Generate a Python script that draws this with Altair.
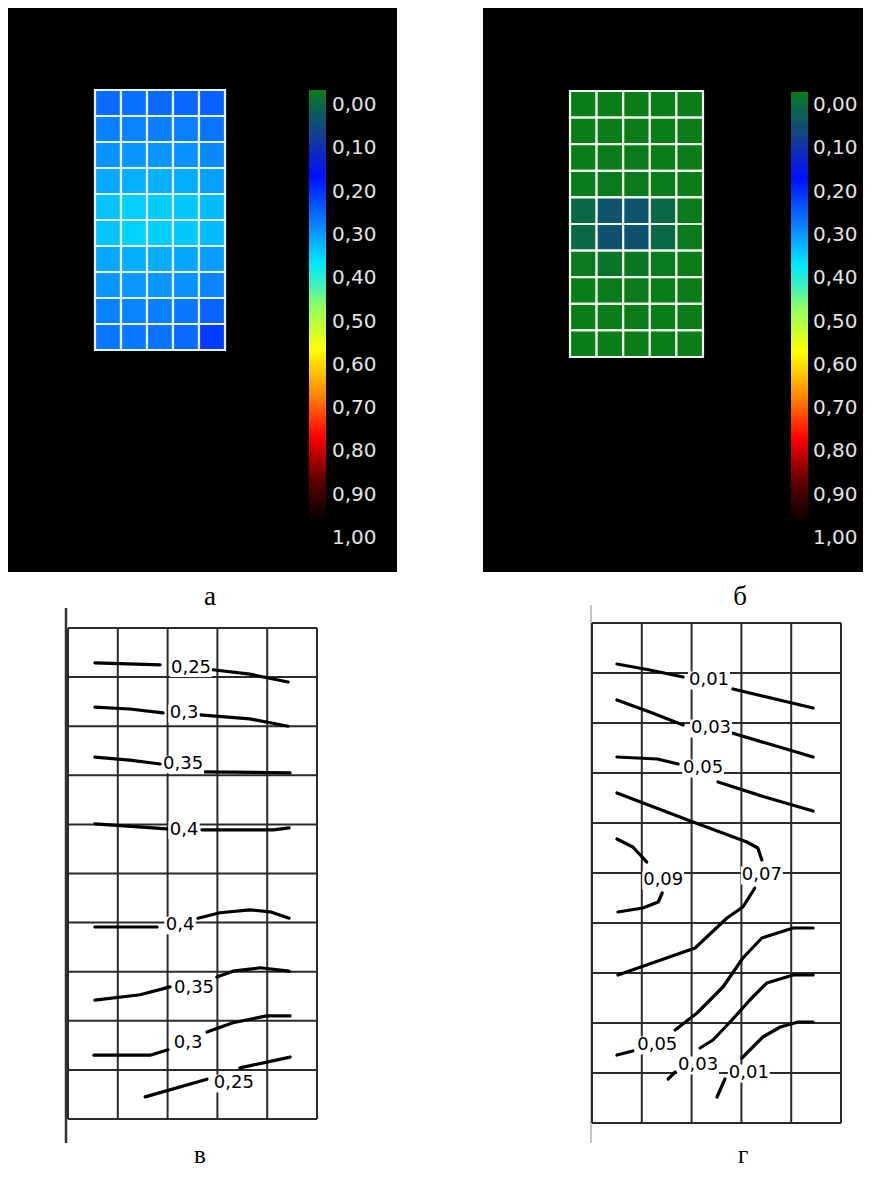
import altair as alt
import pandas as pd

# ---------------- colour map (value -> colour) ----------------
CMAP_VALUES = [0.0, 0.05, 0.1, 0.2, 0.3, 0.4, 0.45, 0.5, 0.6, 0.7, 0.8, 0.9, 1.0]
CMAP_COLORS = ["#0a7d18", "#0b5f5a", "#15408a", "#0010ff", "#0a78ff", "#00e8ff",
               "#40f0c0", "#90ff60", "#ffff00", "#ff8c00", "#ff0000", "#600000", "#000000"]
CBAR_TICKS = [0.0, 0.1, 0.2, 0.3, 0.4, 0.5, 0.6, 0.7, 0.8, 0.9, 1.0]
CBAR_LABELS = ["0,00", "0,10", "0,20", "0,30", "0,40", "0,50",
               "0,60", "0,70", "0,80", "0,90", "1,00"]

# ---------------- panel а : 10 rows x 5 columns ----------------
HEAT_A = [
    [0.288, 0.292, 0.288, 0.286, 0.278],
    [0.307, 0.309, 0.307, 0.305, 0.297],
    [0.323, 0.326, 0.326, 0.323, 0.316],
    [0.345, 0.350, 0.350, 0.347, 0.337],
    [0.367, 0.378, 0.376, 0.372, 0.362],
    [0.368, 0.380, 0.377, 0.372, 0.360],
    [0.343, 0.348, 0.347, 0.343, 0.333],
    [0.327, 0.328, 0.327, 0.322, 0.312],
    [0.308, 0.311, 0.306, 0.301, 0.280],
    [0.299, 0.301, 0.296, 0.287, 0.242],
]
# ---------------- panel б ----------------
HEAT_B = [
    [0.000, 0.000, 0.000, 0.000, 0.000],
    [0.000, 0.000, 0.000, 0.000, 0.000],
    [0.000, 0.002, 0.002, 0.000, 0.000],
    [0.002, 0.004, 0.004, 0.002, 0.000],
    [0.035, 0.070, 0.070, 0.035, 0.004],
    [0.035, 0.072, 0.072, 0.035, 0.004],
    [0.006, 0.014, 0.010, 0.005, 0.000],
    [0.000, 0.003, 0.002, 0.000, 0.000],
    [0.000, 0.000, 0.000, 0.000, 0.000],
    [0.000, 0.000, 0.000, 0.000, 0.000],
]

# ---------------- panel в : contour lines (grid units: x 0..5, y rows 0..10 from top) ----------------
V_025_TOP = [[(0.54, 0.71), (1.85, 0.75)], [(2.91, 0.85), (3.65, 0.94), (4.42, 1.10)]]
V_030_TOP = [[(0.54, 1.61), (1.24, 1.65), (1.91, 1.73)], [(2.65, 1.77), (3.65, 1.85), (4.42, 2.00)]]
V_035_TOP = [[(0.54, 2.63), (1.24, 2.69), (1.85, 2.77)], [(2.75, 2.93), (4.46, 2.95)]]
V_040_TOP = [[(0.54, 3.99), (1.99, 4.09)], [(2.69, 4.11), (4.12, 4.11), (4.44, 4.07)]]
V_040_BOT = [[(0.54, 6.09), (1.79, 6.09)], [(2.61, 5.91), (3.05, 5.80), (3.65, 5.74), (4.06, 5.78), (4.44, 5.91)]]
V_035_BOT = [[(0.54, 7.58), (1.45, 7.47), (2.05, 7.31)], [(2.99, 7.11), (3.31, 6.99), (3.86, 6.92), (4.44, 6.99)]]
V_030_BOT = [[(0.52, 8.70), (1.65, 8.70), (2.01, 8.59)], [(2.79, 8.23), (3.31, 8.04), (3.99, 7.90), (4.46, 7.90)]]
V_025_BOT = [[(1.55, 9.55), (2.79, 9.19)], [(3.45, 8.96), (4.46, 8.74)]]
V_LABEL_TEXT = ["0,25", "0,3", "0,35", "0,4", "0,4", "0,35", "0,3", "0,25"]
V_LABEL_X = [2.47, 2.33, 2.31, 2.33, 2.25, 2.53, 2.41, 3.33]
V_LABEL_Y = [0.81, 1.73, 2.77, 4.11, 6.05, 7.33, 8.45, 9.27]

# ---------------- panel г ----------------
G_001_TOP = [[(0.50, 0.82), (1.16, 0.94), (1.83, 1.08)], [(2.83, 1.32), (4.44, 1.70)]]
G_003_TOP = [[(0.50, 1.54), (1.16, 1.78), (1.83, 2.04)], [(2.81, 2.20), (4.44, 2.68)]]
G_005_TOP = [[(0.50, 2.68), (1.31, 2.72), (1.73, 2.82)], [(2.53, 3.18), (3.47, 3.48), (4.44, 3.76)]]
G_007 = [[(0.50, 3.40), (2.03, 3.98), (3.11, 4.38), (3.33, 4.50), (3.41, 4.74)],
         [(3.27, 5.30), (3.03, 5.68), (2.71, 5.90), (2.07, 6.50), (0.52, 7.04)]]
G_009 = [[(0.50, 4.32), (0.82, 4.48), (1.10, 4.78)], [(1.41, 5.40), (1.33, 5.58), (1.02, 5.70), (0.52, 5.78)]]
G_005_BOT = [[(4.44, 6.10), (4.04, 6.10), (3.41, 6.30), (3.03, 6.70), (2.63, 7.28), (2.11, 7.80), (1.67, 8.14)],
             [(0.82, 8.56), (0.50, 8.64)]]
G_003_BOT = [[(4.44, 7.04), (4.04, 7.04), (3.51, 7.20), (3.17, 7.54), (2.81, 7.94), (2.43, 8.34), (2.17, 8.50)],
             [(1.67, 8.98), (1.53, 9.12)]]
G_001_BOT = [[(4.44, 7.98), (4.14, 7.98), (3.78, 8.08), (3.43, 8.28), (3.17, 8.54), (3.01, 8.70)],
             [(2.67, 9.12), (2.51, 9.48)]]
G_LABEL_TEXT = ["0,01", "0,03", "0,05", "0,07", "0,09", "0,05", "0,03", "0,01"]
G_LABEL_X = [2.35, 2.39, 2.23, 3.41, 1.43, 1.31, 2.13, 3.15]
G_LABEL_Y = [1.14, 2.10, 2.90, 5.04, 5.14, 8.44, 8.84, 9.00]

N_COLS, N_ROWS = 5, 10
PANEL_LETTERS = ["а", "б", "в", "г"]


# ---------------- helpers ----------------
def lin(domain, rng):
    return alt.Scale(domain=domain, range=rng, nice=False, zero=False)


def heat_frame(values):
    rows = []
    for r, row in enumerate(values):
        for c, v in enumerate(row):
            rows.append({"c0": c, "c1": c + 1, "r0": r, "r1": r + 1, "v": v})
    return pd.DataFrame(rows)


def contour_frame(contours):
    rows = []
    for k, segs in enumerate(contours):
        for s, seg in enumerate(segs):
            for i, (x, y) in enumerate(seg):
                rows.append({"seg": f"{k}-{s}", "i": i, "x": x, "y": y})
    return pd.DataFrame(rows)


color_scale = alt.Scale(domain=CMAP_VALUES, range=CMAP_COLORS, interpolate="rgb")
gradient = alt.Gradient(
    gradient="linear",
    stops=[alt.GradientStop(offset=(v - CMAP_VALUES[0]) / (CMAP_VALUES[-1] - CMAP_VALUES[0]), color=c)
           for v, c in zip(CMAP_VALUES, CMAP_COLORS)],
    x1=0, x2=0, y1=0, y2=1,
)
one = pd.DataFrame({"k": [0]})


def black_panel(x0, x1, y0, y1):
    return alt.Chart(one).mark_rect(color="black").encode(
        x=alt.value(x0), x2=alt.value(x1), y=alt.value(y0), y2=alt.value(y1))


def heatmap(values, xr, yr, stroke):
    return alt.Chart(heat_frame(values)).mark_rect(stroke=stroke, strokeWidth=2.2).encode(
        x=alt.X("c0:Q", scale=lin([0, N_COLS], xr), axis=None), x2="c1:Q",
        y=alt.Y("r0:Q", scale=lin([0, N_ROWS], yr), axis=None), y2="r1:Q",
        color=alt.Color("v:Q", scale=color_scale, legend=None),
    )


def colorbar(x0, x1, yr, label_x, label_yr):
    bar = alt.Chart(pd.DataFrame({"a": [CBAR_TICKS[0]], "b": [CBAR_TICKS[-1]]})).mark_rect(
        fill=gradient).encode(
        x=alt.value(x0), x2=alt.value(x1),
        y=alt.Y("a:Q", scale=lin([0, 1], yr), axis=None), y2="b:Q")
    labs = alt.Chart(pd.DataFrame({"t": CBAR_TICKS, "s": CBAR_LABELS})).mark_text(
        align="left", baseline="middle", font="DejaVu Sans", fontSize=20, color="#e4e4e4").encode(
        x=alt.value(label_x),
        y=alt.Y("t:Q", scale=lin([0, 1], label_yr), axis=None), text="s:N")
    return [bar, labs]


def grid(xr, yr, color, width):
    xs = lin([0, N_COLS], xr)
    ys = lin([0, N_ROWS], yr)
    vdf = pd.DataFrame({"g": list(range(N_COLS + 1)), "a": 0, "b": N_ROWS})
    hdf = pd.DataFrame({"g": list(range(N_ROWS + 1)), "a": 0, "b": N_COLS})
    v = alt.Chart(vdf).mark_rule(color=color, strokeWidth=width).encode(
        x=alt.X("g:Q", scale=xs, axis=None),
        y=alt.Y("a:Q", scale=ys, axis=None), y2="b:Q")
    h = alt.Chart(hdf).mark_rule(color=color, strokeWidth=width).encode(
        y=alt.Y("g:Q", scale=ys, axis=None),
        x=alt.X("a:Q", scale=xs, axis=None), x2="b:Q")
    return [v, h]


def contours(curves, texts, tx, ty, xr, yr):
    xs = lin([0, N_COLS], xr)
    ys = lin([0, N_ROWS], yr)
    lines = alt.Chart(contour_frame(curves)).mark_line(
        color="black", strokeWidth=3.2, strokeCap="round", strokeJoin="round").encode(
        x=alt.X("x:Q", scale=xs, axis=None), y=alt.Y("y:Q", scale=ys, axis=None),
        detail="seg:N", order="i:Q")
    lab_df = pd.DataFrame({"x": tx, "y": ty, "s": texts})
    # white box behind each label (approx. 0.2 cell per character, 0.36 row tall)
    lab_df["x0"] = lab_df["x"] - lab_df["s"].str.len() * 0.105
    lab_df["x1"] = lab_df["x"] + lab_df["s"].str.len() * 0.105
    lab_df["y0"] = lab_df["y"] - 0.17
    lab_df["y1"] = lab_df["y"] + 0.19
    box = alt.Chart(lab_df).mark_rect(color="white").encode(
        x=alt.X("x0:Q", scale=xs, axis=None), x2="x1:Q",
        y=alt.Y("y0:Q", scale=ys, axis=None), y2="y1:Q")
    labs = alt.Chart(lab_df).mark_text(
        font="DejaVu Sans", fontSize=18, color="black", align="center", baseline="middle").encode(
        x=alt.X("x:Q", scale=xs, axis=None), y=alt.Y("y:Q", scale=ys, axis=None), text="s:N")
    return [lines, box, labs]


def axis_line(x, y0, y1, color, width):
    return alt.Chart(one).mark_rule(color=color, strokeWidth=width).encode(
        x=alt.value(x), y=alt.value(y0), y2=alt.value(y1))


def letter(s, x, y, size):
    return alt.Chart(pd.DataFrame({"s": [s]})).mark_text(
        font="Liberation Serif", fontSize=size, color="black", align="center",
        baseline="alphabetic").encode(
        x=alt.value(x), y=alt.value(y), text="s:N")


layers = []
# top panels
layers.append(black_panel(0, 389, 0, 564))
layers.append(black_panel(475, 855, 0, 564))
layers.append(heatmap(HEAT_A, [87, 217], [82, 342], "#e6f3ff"))
layers.append(heatmap(HEAT_B, [562, 695], [83, 349], "#eefbea"))
layers += colorbar(301, 318, [82, 515], 324, [97, 530])
layers += colorbar(783, 800, [84, 517], 805, [97, 530])
layers.append(letter(PANEL_LETTERS[0], 202, 597, 27))
layers.append(letter(PANEL_LETTERS[1], 732, 597, 27))

# bottom-left (в)
layers += grid([60, 309], [620, 1111], "#2a2a2a", 2)
layers.append(axis_line(58, 600, 1135, "#333333", 2.5))
layers += contours([V_025_TOP, V_030_TOP, V_035_TOP, V_040_TOP, V_040_BOT, V_035_BOT, V_030_BOT, V_025_BOT],
                   V_LABEL_TEXT, V_LABEL_X, V_LABEL_Y, [60, 309], [620, 1111])
# bottom-right (г)
layers.append(axis_line(583, 597, 1135, "#b0b0b0", 1.5))
layers += grid([584, 833], [615, 1115], "#2a2a2a", 2)
layers += contours([G_001_TOP, G_003_TOP, G_005_TOP, G_007, G_009, G_005_BOT, G_003_BOT, G_001_BOT],
                   G_LABEL_TEXT, G_LABEL_X, G_LABEL_Y, [584, 833], [615, 1115])
layers.append(letter(PANEL_LETTERS[2], 192, 1155, 25))
layers.append(letter(PANEL_LETTERS[3], 735, 1155, 25))

chart = alt.layer(*layers).resolve_scale(
    x="independent", y="independent", color="independent"
).properties(
    width=855, height=1162, padding=0, autosize=alt.AutoSizeParams(type="none")
).configure_view(stroke=None)

chart.save("out.html", embed_options={"renderer": "svg", "actions": False})
